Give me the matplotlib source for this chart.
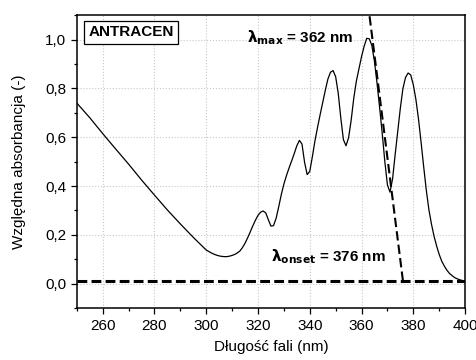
import matplotlib.pyplot as plt
from matplotlib.ticker import MultipleLocator, FuncFormatter

plt.rcParams['font.family'] = ['Liberation Sans', 'DejaVu Sans']

# widmo absorpcyjne antracenu (odczytane punkty)
wavelength = [250, 255, 260, 265, 270, 275, 280, 285, 290, 295,
              300, 301, 302, 303, 304, 305, 306, 307, 308, 309,
              310, 311, 312, 313, 314, 315, 316, 317, 318, 319,
              320, 321, 322, 323, 324, 325, 326, 327, 328, 329,
              330, 331, 332, 333, 334, 335, 336, 337, 338, 339,
              340, 341, 342, 343, 344, 345, 346, 347, 348, 349,
              350, 351, 352, 353, 354, 355, 356, 357, 358, 359,
              360, 361, 362, 363, 364, 365, 366, 367, 368, 369,
              370, 371, 372, 373, 374, 375, 376, 377, 378, 379,
              380, 381, 382, 383, 384, 385, 386, 387, 388, 389,
              390, 391, 392, 393, 394, 395, 396, 397, 398, 399, 400]
absorbance = [0.74, 0.68, 0.615, 0.552, 0.49, 0.425, 0.363, 0.302, 0.245, 0.19,
              0.138, 0.132, 0.126, 0.121, 0.117, 0.114, 0.112, 0.111, 0.111, 0.113,
              0.116, 0.12, 0.126, 0.134, 0.148, 0.166, 0.188, 0.212, 0.237, 0.26,
              0.28, 0.293, 0.298, 0.29, 0.262, 0.236, 0.238, 0.268, 0.315, 0.365,
              0.408, 0.443, 0.474, 0.503, 0.533, 0.565, 0.587, 0.572, 0.497, 0.447,
              0.46, 0.52, 0.585, 0.64, 0.692, 0.742, 0.792, 0.838, 0.866, 0.873,
              0.848, 0.78, 0.678, 0.59, 0.565, 0.598, 0.67, 0.76, 0.83, 0.88,
              0.93, 0.972, 1.005, 1.003, 0.975, 0.91, 0.82, 0.72, 0.615, 0.5,
              0.405, 0.375, 0.43, 0.53, 0.625, 0.72, 0.8, 0.845, 0.863, 0.855,
              0.815, 0.755, 0.675, 0.58, 0.48, 0.385, 0.305, 0.245, 0.195, 0.155,
              0.12, 0.092, 0.072, 0.055, 0.042, 0.033, 0.025, 0.02, 0.016, 0.013, 0.012]

# linia bazowa i styczna do zbocza (przecięcie przy 376 nm)
lambda_max = 362
lambda_onset = 376
baseline_y = 0.012
tangent_x = [lambda_onset, 361.5]
tangent_y = [baseline_y, 1.23]

fig, ax = plt.subplots(figsize=(4.77, 3.6), dpi=100)
fig.subplots_adjust(left=0.161, right=0.975, bottom=0.144, top=0.958)

ax.plot(wavelength, absorbance, color='black', lw=0.9)
ax.plot([250, 400], [baseline_y, baseline_y], color='black', lw=2.2, ls=(0, (3.2, 1.4)))
ax.plot(tangent_x, tangent_y, color='black', lw=1.5, ls=(0, (4.5, 2)))

ax.set_xlim(250, 400)
ax.set_ylim(-0.1, 1.1)
ax.xaxis.set_major_locator(MultipleLocator(20))
ax.xaxis.set_minor_locator(MultipleLocator(10))
ax.yaxis.set_major_locator(MultipleLocator(0.2))
ax.yaxis.set_minor_locator(MultipleLocator(0.1))
ax.yaxis.set_major_formatter(FuncFormatter(lambda v, p: f'{v:.1f}'.replace('.', ',').replace('-0,0', '0,0')))
ax.tick_params(which='both', direction='out', labelsize=11, width=0.9)
ax.tick_params(which='major', length=4)
ax.tick_params(which='minor', length=2.5)
ax.grid(True, which='major', color='#c8c8c8', ls=':', lw=0.8)
for s in ax.spines.values():
    s.set_linewidth(1.1)

ax.set_xlabel('Długość fali (nm)', fontsize=11, labelpad=5)
ax.set_ylabel('Względna absorbancja (-)', fontsize=11, labelpad=14)

ax.text(254.5, 1.03, 'ANTRACEN', fontsize=11, fontweight='bold', va='center',
        bbox=dict(boxstyle='square,pad=0.3', fc='white', ec='black', lw=0.9))
ax.text(315.6, 0.99, r'$\mathbf{\lambda_{max}}$' + f' = {lambda_max} nm', fontsize=11,
        fontweight='bold', va='baseline')
ax.text(324.9, 0.091, r'$\mathbf{\lambda_{onset}}$' + f' = {lambda_onset} nm', fontsize=11,
        fontweight='bold', va='baseline')

plt.savefig('out.png', dpi=100)
